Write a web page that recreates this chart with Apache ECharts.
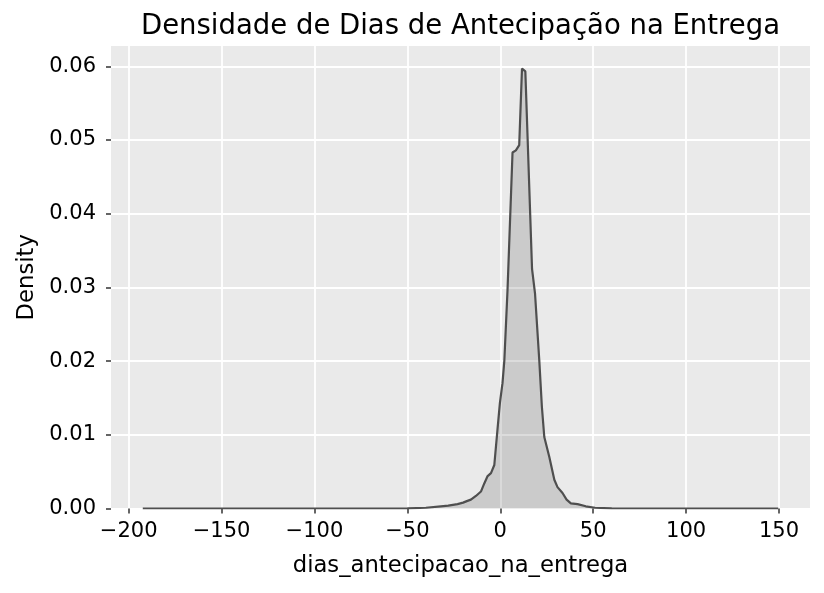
<!DOCTYPE html>
<html>
<head>
<meta charset="utf-8">
<script src="https://cdn.jsdelivr.net/npm/echarts@6/dist/echarts.min.js"></script>
<style>
html,body{margin:0;padding:0;background:#fff;}
#chart{width:824px;height:593px;}
</style>
</head>
<body>
<div id="chart"></div>
<script>
// Data
const dayValues = [-192.4, -150, -100, -60, -50, -40, -32, -28, -23, -20, -18, -15.8, -13.1, -10.4, -8.6, -6.8, -5, -3.2, -1.5, -0.2, 1.2, 2.2, 3.9, 6.6, 8.4, 10.2, 11.7, 13.5, 17.1, 18.7, 21, 22.4, 23.7, 26.4, 29.1, 30.8, 33.5, 35.7, 38, 41.6, 46, 51, 60, 80, 120, 149.6];
const densityValues = [0, 0, 0, 0, 0.00002, 0.0001, 0.0003, 0.0004, 0.0006, 0.0008, 0.001, 0.0012, 0.0017, 0.0023, 0.0034, 0.0044, 0.0048, 0.0059, 0.0107, 0.0143, 0.017, 0.0201, 0.0296, 0.0483, 0.0486, 0.0493, 0.0597, 0.0593, 0.0325, 0.0292, 0.0201, 0.0138, 0.0097, 0.007, 0.0039, 0.0029, 0.0021, 0.0012, 0.0007, 0.0006, 0.0003, 0.0001, 0.00002, 0, 0, 0];
const xTicks = [-200, -150, -100, -50, 0, 50, 100, 150];
const yTicks = [0, 0.01, 0.02, 0.03, 0.04, 0.05, 0.06];
const titleText = 'Densidade de Dias de Antecipação na Entrega';
const xName = 'dias_antecipacao_na_entrega';
const yName = 'Density';

const seriesData = dayValues.map((d, i) => [d, densityValues[i]]);
const font = 'DejaVu Sans';

const chart = echarts.init(document.getElementById('chart'), null, {renderer: 'canvas'});
chart.setOption({
  animation: false,
  backgroundColor: '#ffffff',
  title: {
    text: titleText,
    left: 460.5,
    textAlign: 'center',
    top: 12.5,
    padding: 0,
    textStyle: {fontFamily: font, fontSize: 27.5, fontWeight: 'normal', color: '#000'}
  },
  grid: {
    left: 111, right: 14, top: 46, bottom: 84.5,
    show: true, backgroundColor: '#EAEAEA', borderWidth: 0,
    containLabel: false
  },
  xAxis: {
    type: 'value',
    min: -209.5, max: 166.7,
    name: xName,
    nameLocation: 'middle',
    nameGap: 46,
    nameTextStyle: {fontFamily: font, fontSize: 22.7, color: '#000'},
    axisLine: {show: false, onZero: false},
    axisTick: {show: true, length: 5, lineStyle: {color: '#333', width: 1.5}, customValues: xTicks},
    axisLabel: {
      customValues: xTicks,
      fontFamily: font, fontSize: 21, color: '#000', margin: 13,
      formatter: v => (v < 0 ? '\u2212' + Math.abs(v) : String(v))
    },
    splitLine: {show: true, lineStyle: {color: '#ffffff', width: 1.8}}
  },
  yAxis: {
    type: 'value',
    min: 0, max: 0.06275,
    name: yName,
    nameLocation: 'middle',
    nameGap: 72,
    nameTextStyle: {fontFamily: font, fontSize: 22.7, color: '#000'},
    axisLine: {show: false, onZero: false},
    axisTick: {show: true, length: 5, lineStyle: {color: '#333', width: 1.5}, customValues: yTicks},
    axisLabel: {
      customValues: yTicks,
      fontFamily: font, fontSize: 21, color: '#000', margin: 15,
      formatter: v => v.toFixed(2)
    },
    splitLine: {show: true, lineStyle: {color: '#ffffff', width: 1.8}}
  },
  series: [{
    type: 'line',
    data: seriesData,
    showSymbol: false,
    symbol: 'none',
    smooth: false,
    clip: true,
    lineStyle: {color: '#4f4f4f', width: 2.2},
    areaStyle: {color: 'rgba(75,75,75,0.28)'},
    z: 3
  }]
});
</script>
</body>
</html>
